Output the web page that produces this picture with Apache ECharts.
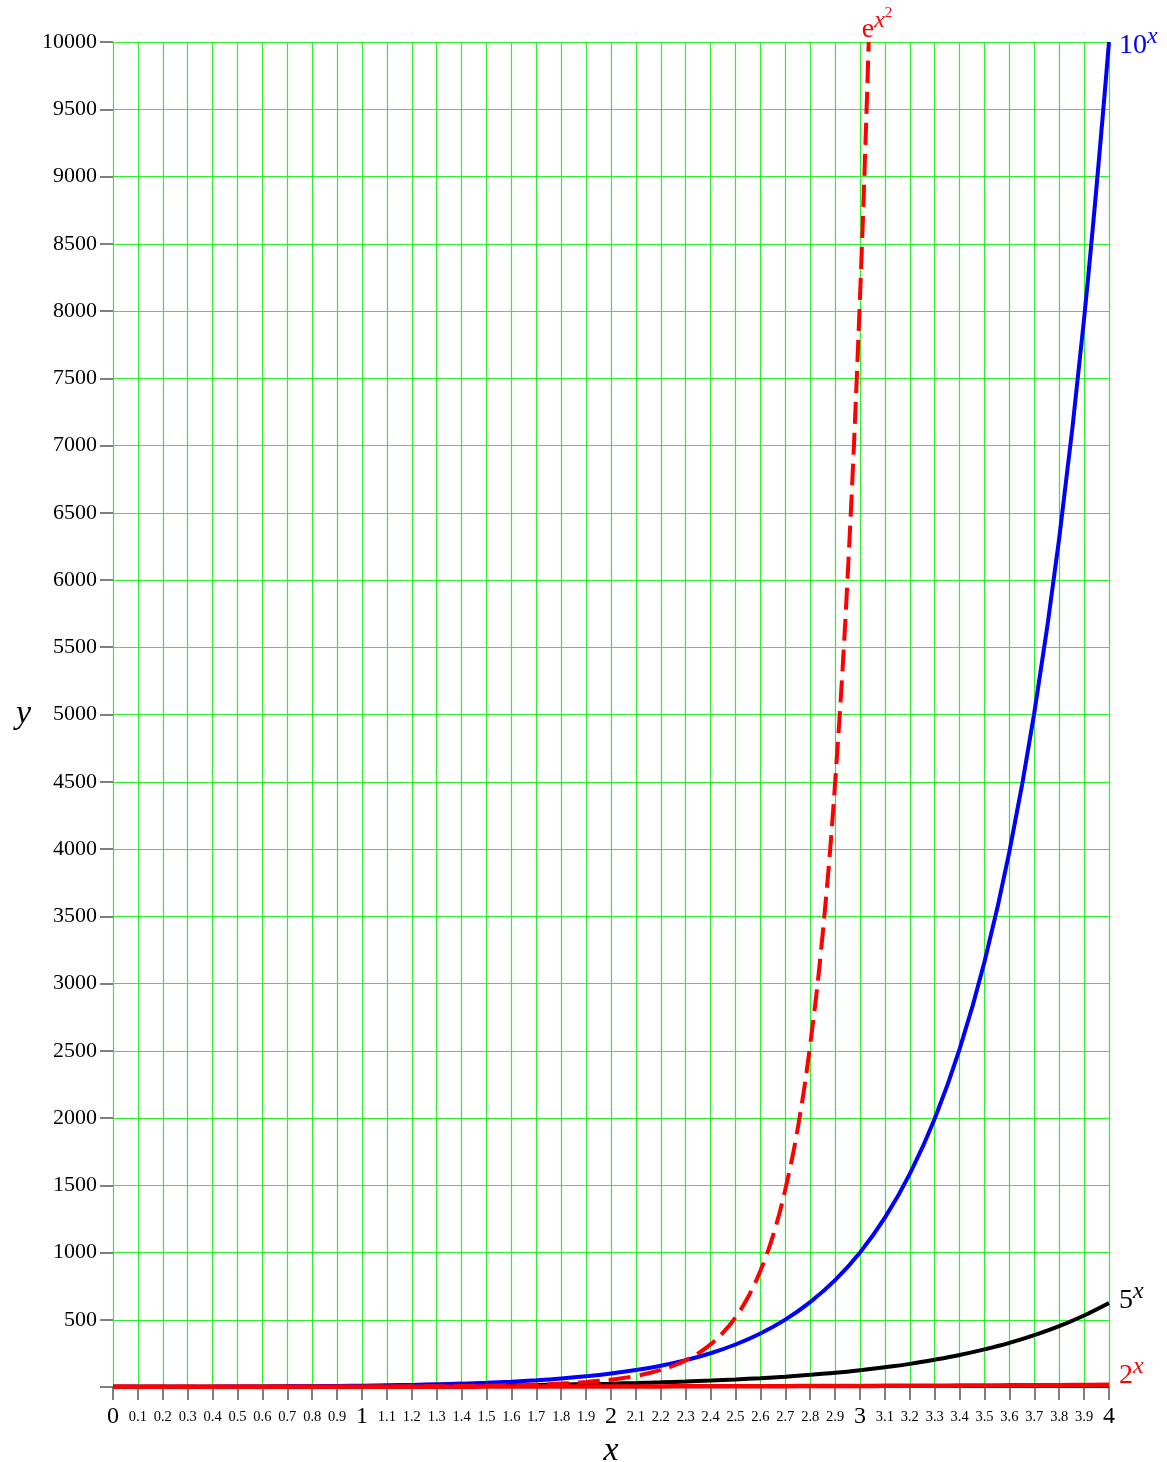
<!DOCTYPE html>
<html>
<head>
<meta charset="utf-8">
<script src="https://cdn.jsdelivr.net/npm/echarts@6/dist/echarts.min.js"></script>
<style>
  html, body { margin: 0; padding: 0; background: #fff; }
  #chart { width: 1167px; height: 1462px; }
</style>
</head>
<body>
<div id="chart"></div>
<script>
// Sample positions along x (step 0.1)
const xs = [0, 0.1, 0.2, 0.3, 0.4, 0.5, 0.6, 0.7, 0.8, 0.9, 1, 1.1, 1.2, 1.3, 1.4, 1.5, 1.6, 1.7, 1.8, 1.9,
            2, 2.1, 2.2, 2.3, 2.4, 2.5, 2.6, 2.7, 2.8, 2.9, 3, 3.1, 3.2, 3.3, 3.4, 3.5, 3.6, 3.7, 3.8, 3.9, 4];

// y = 2^x
const pow2 = [1, 1.07, 1.15, 1.23, 1.32, 1.41, 1.52, 1.62, 1.74, 1.87, 2, 2.14, 2.3, 2.46, 2.64, 2.83, 3.03, 3.25, 3.48, 3.73,
              4, 4.29, 4.59, 4.92, 5.28, 5.66, 6.06, 6.5, 6.96, 7.46, 8, 8.57, 9.19, 9.85, 10.6, 11.3, 12.1, 13, 13.9, 14.9, 16];

// y = 5^x
const pow5 = [1, 1.17, 1.38, 1.62, 1.9, 2.24, 2.63, 3.09, 3.62, 4.26, 5, 5.87, 6.9, 8.1, 9.52, 11.2, 13.1, 15.4, 18.1, 21.3,
              25, 29.4, 34.5, 40.5, 47.6, 55.9, 65.7, 77.1, 90.6, 106, 125, 147, 172, 203, 238, 280, 328, 386, 453, 532, 625];

// y = 10^x
const pow10 = [1, 1.26, 1.58, 2, 2.51, 3.16, 3.98, 5.01, 6.31, 7.94, 10, 12.6, 15.8, 20, 25.1, 31.6, 39.8, 50.1, 63.1, 79.4,
               100, 126, 158, 200, 251, 316, 398, 501, 631, 794, 1000, 1259, 1585, 1995, 2512, 3162, 3981, 5012, 6310, 7943, 10000];

// y = e^(x^2), finer sampling where it turns steep; ends where it leaves the plot
const expSqX = [0, 0.1, 0.2, 0.3, 0.4, 0.5, 0.6, 0.7, 0.8, 0.9, 1, 1.1, 1.2, 1.3, 1.4, 1.5, 1.6, 1.7, 1.8, 1.9,
                2, 2.05, 2.1, 2.15, 2.2, 2.25, 2.3, 2.35, 2.4, 2.45, 2.5, 2.55, 2.6, 2.65, 2.7, 2.75, 2.8, 2.85, 2.9, 2.95, 3, 3.035];
const expSqY = [1, 1.01, 1.04, 1.09, 1.17, 1.28, 1.43, 1.63, 1.9, 2.25, 2.72, 3.35, 4.22, 5.42, 7.1, 9.49, 12.9, 18, 25.5, 37,
                54.6, 66.9, 82.4, 102, 127, 158, 198, 250, 317, 404, 518, 667, 864, 1122, 1469, 1924, 2545, 3368, 4491, 6013, 8103, 10000];

const yTicks = { min: 0, max: 10000, step: 500 };
const xTicks = { min: 0, max: 4, step: 0.1 };

const SERIF = '"Liberation Serif", "DejaVu Serif", serif';
const GRID_GREEN = '#2df02d';

function pairs(x, y) {
  return x.map((v, i) => [v, y[i]]);
}

// Rich styles for "base^exponent" curve labels
function powerRich(color) {
  return {
    b: { fontFamily: SERIF, fontSize: 28, color: color, lineHeight: 32 },
    s: { fontFamily: SERIF, fontSize: 24, fontStyle: 'italic', color: color, padding: [0, 0, 18, 0] },
    ss: { fontFamily: SERIF, fontSize: 15, color: color, padding: [0, 0, 34, 0] }
  };
}

function curve(name, x, y, color, width, dash, label, z) {
  return {
    name: name,
    type: 'line',
    data: pairs(x, y),
    showSymbol: false,
    symbol: 'none',
    smooth: 0.4,
    lineStyle: { color: color, width: width, type: dash || 'solid' },
    endLabel: Object.assign({ show: true, rich: powerRich(color) }, label),
    labelLayout: { hideOverlap: false },
    z: z
  };
}

const chart = echarts.init(document.getElementById('chart'), null, { renderer: 'canvas', width: 1167, height: 1462 });

chart.setOption({
  animation: false,
  backgroundColor: '#ffffff',
  grid: { left: 113, right: 58, top: 42, bottom: 75, containLabel: false, outerBoundsMode: 'none' },
  xAxis: {
    type: 'value',
    min: xTicks.min, max: xTicks.max, interval: xTicks.step,
    name: 'x',
    nameLocation: 'middle',
    nameGap: 40,
    nameTextStyle: { fontFamily: SERIF, fontStyle: 'italic', fontSize: 34, color: '#000' },
    axisLine: { show: true, lineStyle: { color: '#000', width: 1 } },
    axisTick: { show: true, length: 13, lineStyle: { color: '#555', width: 1.5 } },
    splitLine: { show: true, lineStyle: { color: GRID_GREEN, width: 1.2 } },
    axisLabel: {
      margin: 18,
      formatter: function (v) {
        const r = Math.round(v * 10) / 10;
        if (Math.abs(r - Math.round(r)) < 1e-9) return '{big|' + Math.round(r) + '}';
        return '{small|' + r.toFixed(1) + '}';
      },
      rich: {
        big: { fontFamily: SERIF, fontSize: 24, color: '#000', lineHeight: 24 },
        small: { fontFamily: SERIF, fontSize: 14.5, color: '#000', lineHeight: 24 }
      }
    }
  },
  yAxis: {
    type: 'value',
    min: yTicks.min, max: yTicks.max, interval: yTicks.step,
    name: 'y',
    nameLocation: 'middle',
    nameGap: 82,
    nameRotate: 0,
    nameTextStyle: { fontFamily: SERIF, fontStyle: 'italic', fontSize: 34, color: '#000' },
    axisLine: { show: false },
    axisTick: { show: true, length: 13, lineStyle: { color: '#555', width: 1.5 } },
    splitLine: { show: true, lineStyle: { color: GRID_GREEN, width: 1.2 } },
    axisLabel: {
      margin: 16,
      fontFamily: SERIF, fontSize: 22, color: '#000',
      formatter: function (v) { return v === 0 ? '' : String(v); }
    }
  },
  series: [
    curve('2^x', xs, pow2, '#ff0000', 4.5, null,
      { formatter: '{b|2}{s|x}', distance: 10, offset: [0, -9] }, 5),
    curve('5^x', xs, pow5, '#000000', 4, null,
      { formatter: '{b|5}{s|x}', distance: 10, offset: [0, -2] }, 3),
    curve('10^x', xs, pow10, '#0000ff', 4, null,
      { formatter: '{b|10}{s|x}', distance: 10, offset: [0, 4] }, 4),
    curve('e^(x^2)', expSqX, expSqY, '#ff0000', 4, [22, 9],
      { formatter: '{b|e}{s|x}{ss|2}', distance: 0, offset: [-7, -12] }, 4)
  ]
});
</script>
</body>
</html>
